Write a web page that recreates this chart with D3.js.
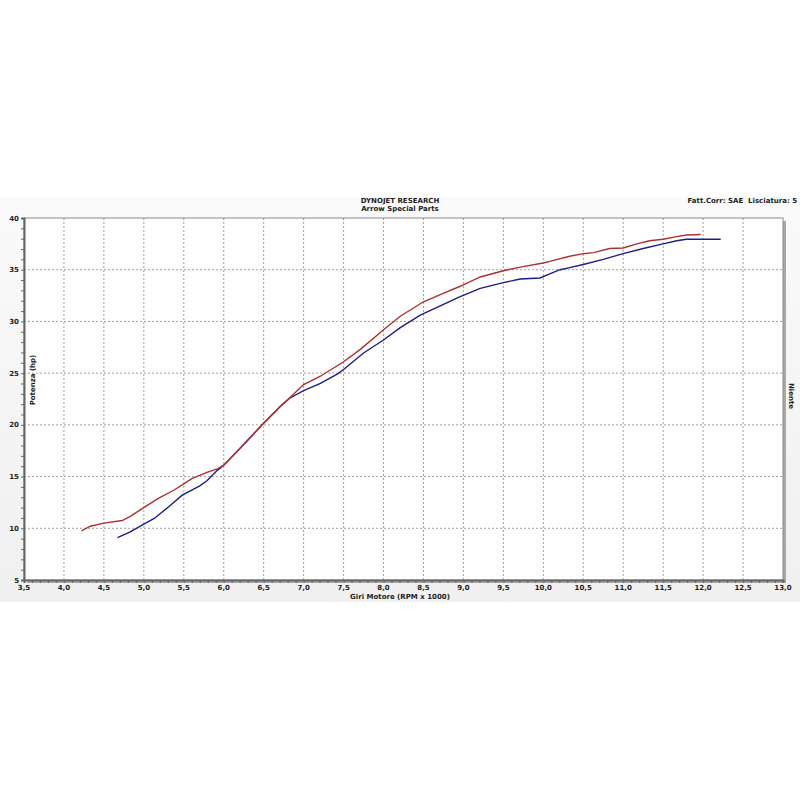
<!DOCTYPE html>
<html>
<head>
<meta charset="utf-8">
<script src="https://cdn.jsdelivr.net/npm/d3@7"></script>
<style>
  body { margin: 0; background: #fff; }
  text { font-family: "DejaVu Sans", Verdana, sans-serif; font-weight: bold; fill: #222; white-space: pre; }
</style>
</head>
<body>
<div id="chart"></div>
<script>
// Curva rossa (scarico Arrow)
const redRpm = [4.22, 4.33, 4.5, 4.73, 4.83, 4.98, 5.17, 5.38, 5.5, 5.6, 5.79, 5.92, 6.0, 6.25, 6.48, 6.71, 6.85, 7.0, 7.21, 7.5, 7.71, 8.0, 8.21, 8.5, 8.71, 8.96, 9.21, 9.5, 9.71, 10.0, 10.08, 10.33, 10.5, 10.63, 10.83, 11.0, 11.17, 11.33, 11.5, 11.67, 11.79, 11.97];
const redHp = [9.75, 10.2, 10.5, 10.75, 11.15, 11.9, 12.85, 13.7, 14.3, 14.8, 15.4, 15.75, 16.1, 18.1, 20.0, 21.8, 22.8, 23.9, 24.7, 26.1, 27.3, 29.2, 30.5, 31.9, 32.6, 33.4, 34.3, 34.9, 35.25, 35.65, 35.8, 36.3, 36.55, 36.65, 37.05, 37.1, 37.5, 37.8, 37.95, 38.2, 38.35, 38.4];
// Curva blu (originale)
const blueRpm = [4.67, 4.83, 5.0, 5.13, 5.33, 5.48, 5.6, 5.7, 5.79, 5.92, 6.0, 6.25, 6.48, 6.71, 6.83, 7.0, 7.21, 7.42, 7.5, 7.75, 8.0, 8.21, 8.46, 8.71, 8.96, 9.21, 9.5, 9.71, 9.96, 10.08, 10.21, 10.33, 10.5, 10.75, 11.0, 11.25, 11.5, 11.67, 11.79, 12.0, 12.22];
const blueHp = [9.1, 9.65, 10.4, 10.95, 12.2, 13.2, 13.7, 14.1, 14.6, 15.6, 16.1, 18.1, 20.0, 21.8, 22.6, 23.3, 24.0, 24.9, 25.35, 26.95, 28.2, 29.4, 30.6, 31.5, 32.4, 33.2, 33.75, 34.1, 34.2, 34.6, 35.0, 35.2, 35.5, 36.0, 36.55, 37.05, 37.5, 37.8, 37.95, 37.95, 37.95];

const xTicks = d3.range(3.5, 13.01, 0.5);
const yTicks = d3.range(5, 41, 5);

const W = 800, H = 800;
const pL = 24, pR = 783, pT = 218, pB = 580;

const svg = d3.select("#chart").append("svg")
    .attr("width", W).attr("height", H);

// sfondo grigio chiaro della finestra del grafico
const grad = svg.append("defs").append("linearGradient")
    .attr("id", "bg").attr("x1", 0).attr("y1", 0).attr("x2", 0).attr("y2", 1);
grad.append("stop").attr("offset", "0").attr("stop-color", "#fafafa");
grad.append("stop").attr("offset", "1").attr("stop-color", "#f0f0f0");
svg.append("rect").attr("x", 0).attr("y", 197).attr("width", W).attr("height", 405)
    .attr("fill", "url(#bg)");

const x = d3.scaleLinear().domain([3.5, 13]).range([pL, pR]);
const y = d3.scaleLinear().domain([5, 40]).range([pB, pT]);

// ombra a destra e area bianca
svg.append("rect").attr("x", pL + 3).attr("y", pT + 3)
    .attr("width", pR - pL).attr("height", pB - pT).attr("fill", "#a8a8a8");
svg.append("rect").attr("x", pL).attr("y", pT)
    .attr("width", pR - pL).attr("height", pB - pT)
    .attr("fill", "#fff").attr("stroke", "#8a8a8a").attr("stroke-width", 1);

// griglia tratteggiata
const grid = svg.append("g");
grid.selectAll(".vx").data(xTicks.slice(1, -1)).enter().append("line")
    .attr("x1", d => x(d)).attr("x2", d => x(d))
    .attr("y1", pT).attr("y2", pB)
    .attr("stroke", "#888").attr("stroke-width", 0.8).attr("stroke-dasharray", "2,2");
grid.selectAll(".hy").data(yTicks.slice(1, -1)).enter().append("line")
    .attr("x1", pL).attr("x2", pR)
    .attr("y1", d => y(d)).attr("y2", d => y(d))
    .attr("stroke", "#888").attr("stroke-width", 0.8).attr("stroke-dasharray", "2,2");

// assi
const xAxis = d3.axisBottom(x).tickValues(d3.range(3.5, 13.001, 0.1)).tickSize(3).tickFormat("");
const gx = svg.append("g").attr("transform", "translate(0," + pB + ")").call(xAxis);
gx.select(".domain").attr("stroke", "#666").attr("stroke-width", 2);
gx.selectAll("line").attr("stroke", "#666");

const yAxis = d3.axisLeft(y).tickValues(d3.range(5, 40.01, 1)).tickSize(3).tickFormat("");
const gy = svg.append("g").attr("transform", "translate(" + pL + ",0)").call(yAxis);
gy.select(".domain").attr("stroke", "#666").attr("stroke-width", 2);
gy.selectAll("line").attr("stroke", "#666");

// etichette dei tick
svg.selectAll(".xl").data(xTicks).enter().append("text")
    .attr("x", d => x(d)).attr("y", pB + 10)
    .attr("text-anchor", "middle").style("font-size", "7px")
    .text(d => d3.format(".1f")(d).replace(".", ","));
svg.selectAll(".yl").data(yTicks).enter().append("text")
    .attr("x", pL - 5).attr("y", d => y(d) + 2.5)
    .attr("text-anchor", "end").style("font-size", "7px")
    .text(d => d);

// curve
const line = d3.line().x(d => x(d[0])).y(d => y(d[1]));
svg.append("path").datum(blueRpm.map((r, i) => [r, blueHp[i]]))
    .attr("d", line).attr("fill", "none").attr("stroke", "#1c1c8e").attr("stroke-width", 1.4);
svg.append("path").datum(redRpm.map((r, i) => [r, redHp[i]]))
    .attr("d", line).attr("fill", "none").attr("stroke", "#b0302e").attr("stroke-width", 1.4);

// testi
svg.append("text").attr("x", 400).attr("y", 203).attr("text-anchor", "middle")
    .style("font-size", "7px").text("DYNOJET RESEARCH");
svg.append("text").attr("x", 400).attr("y", 211).attr("text-anchor", "middle")
    .style("font-size", "7px").text("Arrow Special Parts");
svg.append("text").attr("x", 797).attr("y", 203).attr("text-anchor", "end")
    .style("font-size", "7px").text("Fatt.Corr: SAE  Lisciatura: 5");
svg.append("text").attr("x", 400).attr("y", 599).attr("text-anchor", "middle")
    .style("font-size", "7px").text("Giri Motore (RPM x 1000)");
svg.append("text").attr("transform", "translate(35,380) rotate(-90)")
    .attr("text-anchor", "middle").style("font-size", "7px").text("Potenza (hp)");
svg.append("text").attr("transform", "translate(789,396) rotate(90)")
    .attr("text-anchor", "middle").style("font-size", "7px").text("Niente");
</script>
</body>
</html>
